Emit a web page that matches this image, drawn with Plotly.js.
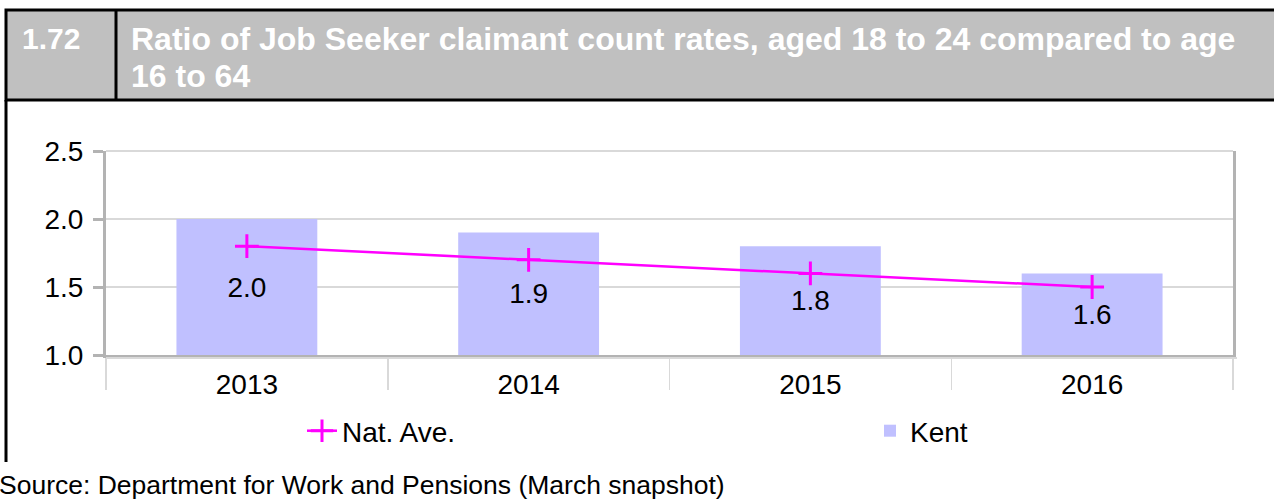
<!DOCTYPE html>
<html>
<head>
<meta charset="utf-8">
<script src="https://cdn.plot.ly/plotly-3.0.1.min.js"></script>
<style>
  html, body { margin: 0; padding: 0; background: #ffffff; }
  #chart { width: 1274px; height: 502px; }
</style>
</head>
<body>
<div id="chart"></div>
<script>
// ---- Data ----
const years = ['2013', '2014', '2015', '2016'];
const kentValues = [2.0, 1.9, 1.8, 1.6];
const natAveValues = [1.8, 1.7, 1.6, 1.5];
const seriesNames = ['Nat. Ave.', 'Kent'];
const yTickValues = [1.0, 1.5, 2.0, 2.5];
const chartNumber = '1.72';
const titleLine1 = 'Ratio of Job Seeker claimant count rates, aged 18 to 24 compared to age';
const titleLine2 = '16 to 64';
const sourceText = 'Source: Department for Work and Pensions (March snapshot)';

// ---- Geometry helpers (pixel -> paper) ----
const W = 1274, H = 502;
const M = { l: 106, r: 41, t: 151, b: 147 };
const PW = W - M.l - M.r, PH = H - M.t - M.b;
const px = x => (x - M.l) / PW;
const py = y => (H - M.b - y) / PH;

const FONT = 'Liberation Sans, Arial, Helvetica, sans-serif';
const AXIS_GREY = '#b3b3b3';
const GRID_GREY = '#d9d9d9';
const yMin = yTickValues[0], yMax = yTickValues[yTickValues.length - 1];

const traces = [
  {
    // bars rise from the axis floor (value axis starts at 1.0)
    type: 'bar',
    name: seriesNames[1],
    legend: 'legend2',
    x: years,
    base: yMin,
    y: kentValues.map(v => v - yMin),
    width: 0.5,
    marker: { color: '#c0c0ff', line: { width: 0 } },
    text: kentValues.map(v => v.toFixed(1)),
    textposition: 'inside',
    insidetextanchor: 'middle',
    textangle: 0,
    constraintext: 'none',
    textfont: { family: FONT, size: 28, color: '#000000' },
    hoverinfo: 'skip'
  },
  {
    type: 'scatter',
    mode: 'lines+markers',
    name: seriesNames[0],
    legend: 'legend',
    x: years,
    y: natAveValues,
    line: { color: '#ff00ff', width: 2.5 },
    marker: { symbol: 'cross-thin', size: 17, color: '#ff00ff', line: { color: '#ff00ff', width: 3 } },
    hoverinfo: 'skip'
  }
];

const shapes = [
  // header band
  { type: 'rect', xref: 'paper', yref: 'paper', x0: px(6), x1: px(1290), y0: py(100), y1: py(10),
    fillcolor: '#c0c0c0', line: { color: '#000000', width: 3 }, layer: 'below' },
  // divider in header
  { type: 'line', xref: 'paper', yref: 'paper', x0: px(116), x1: px(116), y0: py(100), y1: py(10),
    line: { color: '#000000', width: 3 } },
  // left border of panel
  { type: 'line', xref: 'paper', yref: 'paper', x0: px(6), x1: px(6), y0: py(462), y1: py(100),
    line: { color: '#000000', width: 3 } },
  // top edge of plot area (gridline colour)
  { type: 'line', xref: 'paper', yref: 'paper', x0: 0, x1: 1, y0: 1, y1: 1,
    line: { color: GRID_GREY, width: 2 }, layer: 'below' },
  // light line under the axis
  { type: 'line', xref: 'paper', yref: 'paper', x0: 0, x1: px(1237), y0: py(358), y1: py(358),
    line: { color: GRID_GREY, width: 2 } }
];

const annotations = [
  { xref: 'paper', yref: 'paper', x: px(20), y: py(39), xanchor: 'left', yanchor: 'middle',
    text: '<b>' + chartNumber + '</b>', showarrow: false,
    font: { family: FONT, size: 30, color: '#ffffff' } },
  { xref: 'paper', yref: 'paper', x: px(129), y: py(39), xanchor: 'left', yanchor: 'middle',
    text: '<b>' + titleLine1 + '</b>', showarrow: false,
    font: { family: FONT, size: 32, color: '#ffffff' } },
  { xref: 'paper', yref: 'paper', x: px(129), y: py(76), xanchor: 'left', yanchor: 'middle',
    text: '<b>' + titleLine2 + '</b>', showarrow: false,
    font: { family: FONT, size: 32, color: '#ffffff' } },
  { xref: 'paper', yref: 'paper', x: px(-3), y: py(485), xanchor: 'left', yanchor: 'middle',
    text: sourceText, showarrow: false,
    font: { family: FONT, size: 26.5, color: '#000000' } }
];

const legendFont = { family: FONT, size: 28, color: '#000000' };

const layout = {
  width: W, height: H,
  margin: M,
  paper_bgcolor: '#ffffff',
  plot_bgcolor: '#ffffff',
  font: { family: FONT, size: 28, color: '#000000' },
  showlegend: true,
  legend: {
    x: px(302), xanchor: 'left',
    y: py(431), yanchor: 'middle',
    font: legendFont,
    bgcolor: 'rgba(0,0,0,0)'
  },
  legend2: {
    x: px(870), xanchor: 'left',
    y: py(431), yanchor: 'middle',
    font: legendFont,
    bgcolor: 'rgba(0,0,0,0)'
  },
  xaxis: {
    type: 'category',
    range: [-0.5, 3.5],
    showgrid: false,
    showline: true, linecolor: AXIS_GREY, linewidth: 3,
    ticks: 'outside', tickson: 'boundaries', ticklen: 32, tickwidth: 1.5, tickcolor: GRID_GREY,
    ticklabelstandoff: 2,
    tickfont: { family: FONT, size: 28, color: '#000000' },
    zeroline: false, fixedrange: true
  },
  yaxis: {
    range: [yMin, yMax],
    tickvals: yTickValues,
    ticktext: yTickValues.map(v => v.toFixed(1)),
    showgrid: true, gridcolor: GRID_GREY, gridwidth: 2,
    showline: true, mirror: true, linecolor: AXIS_GREY, linewidth: 3,
    ticks: 'outside', ticklen: 10, tickwidth: 3, tickcolor: AXIS_GREY,
    ticklabelstandoff: 4,
    tickfont: { family: FONT, size: 28, color: '#000000' },
    zeroline: false, fixedrange: true
  },
  shapes: shapes,
  annotations: annotations
};

Plotly.newPlot('chart', traces, layout, { staticPlot: true, displayModeBar: false });
</script>
</body>
</html>
